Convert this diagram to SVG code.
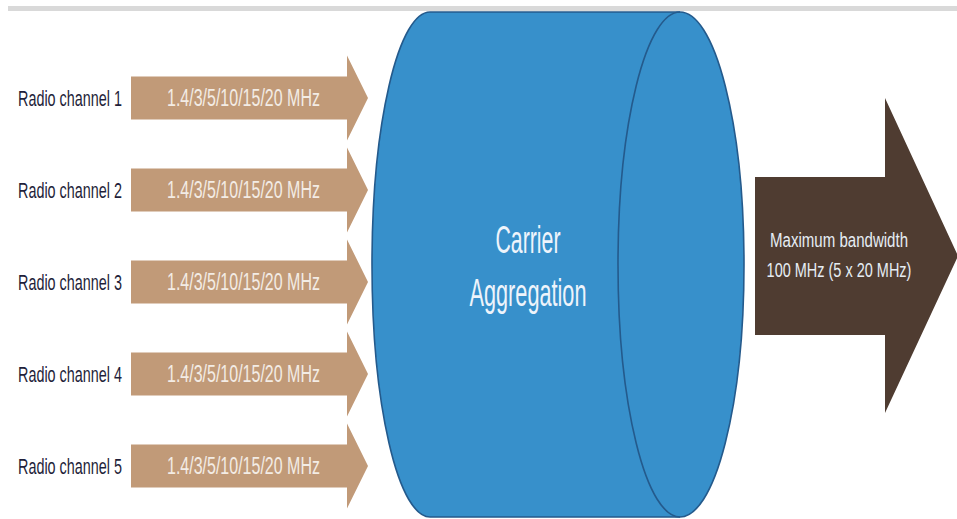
<svg xmlns="http://www.w3.org/2000/svg" width="957" height="519" viewBox="0 0 957 519">
<defs>
<style>
.lbl{font-family:"Liberation Sans",Arial,sans-serif;font-size:23px;fill:#1f1f3a;}
.bw{font-family:"Liberation Sans",Arial,sans-serif;font-size:23px;fill:#f3ece5;}
.ca{font-family:"Liberation Sans",Arial,sans-serif;font-size:38px;fill:#eef4fb;text-anchor:middle;}
.out{font-family:"Liberation Sans",Arial,sans-serif;font-size:21px;fill:#e6edf4;text-anchor:middle;}
.in{fill:#c19a78;}
</style>
<path id="inArrow" d="M131,-21.5 H347 V-42.5 L368,0 L347,42.5 V21.5 H131 Z"/>
</defs>
<rect width="957" height="519" fill="#ffffff"/>
<rect x="8" y="6" width="949" height="5" fill="#d9d9d9"/>

<g id="connectors">
  <use href="#inArrow" class="in" transform="translate(0,98)"/>
  <use href="#inArrow" class="in" transform="translate(0,190)"/>
  <use href="#inArrow" class="in" transform="translate(0,282)"/>
  <use href="#inArrow" class="in" transform="translate(0,374)"/>
  <use href="#inArrow" class="in" transform="translate(0,466)"/>
  <path id="output-arrow" d="M755,177 H885 V98 L958,256 L885,413 V335 H755 Z" fill="#4f3c31"/>
</g>

<g id="channel1">
  <text class="lbl" transform="translate(18,106) scale(0.626,1)">Radio channel 1</text>
  <text class="bw" transform="translate(167,106) scale(0.696,1)">1.4/3/5/10/15/20 MHz</text>
</g>
<g id="channel2">
  <text class="lbl" transform="translate(18,198) scale(0.626,1)">Radio channel 2</text>
  <text class="bw" transform="translate(167,198) scale(0.696,1)">1.4/3/5/10/15/20 MHz</text>
</g>
<g id="channel3">
  <text class="lbl" transform="translate(18,290) scale(0.626,1)">Radio channel 3</text>
  <text class="bw" transform="translate(167,290) scale(0.696,1)">1.4/3/5/10/15/20 MHz</text>
</g>
<g id="channel4">
  <text class="lbl" transform="translate(18,382) scale(0.626,1)">Radio channel 4</text>
  <text class="bw" transform="translate(167,382) scale(0.696,1)">1.4/3/5/10/15/20 MHz</text>
</g>
<g id="channel5">
  <text class="lbl" transform="translate(18,474) scale(0.626,1)">Radio channel 5</text>
  <text class="bw" transform="translate(167,474) scale(0.696,1)">1.4/3/5/10/15/20 MHz</text>
</g>

<g id="carrier-aggregation">
  <path d="M430,12 H680 A64,252.5 0 0 1 680,517 H430 A58,252.5 0 0 1 430,12 Z" fill="#3790cb" stroke="#245a8c" stroke-width="1.6"/>
  <path d="M680,12 A62,252.5 0 0 0 680,517" fill="none" stroke="#245a8c" stroke-width="1.6"/>
  <text class="ca" transform="translate(528,253) scale(0.56,1)">Carrier</text>
  <text class="ca" transform="translate(528,306) scale(0.571,1)">Aggregation</text>
</g>

<g id="output">
  <text class="out" transform="translate(839,247) scale(0.717,1)">Maximum bandwidth</text>
  <text class="out" transform="translate(839,277) scale(0.69,1)">100 MHz (5 x 20 MHz)</text>
</g>
</svg>
